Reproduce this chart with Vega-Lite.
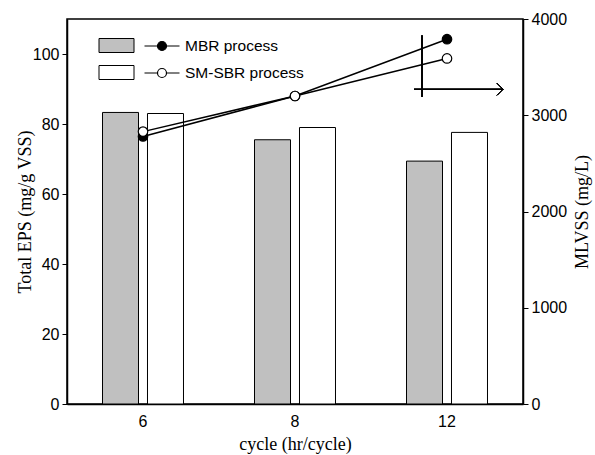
{
  "$schema": "https://vega.github.io/schema/vega-lite/v6.json",
  "width": 456,
  "height": 385,
  "autosize": {"type": "none"},
  "padding": {"left": 67, "top": 19, "right": 72, "bottom": 51},
  "background": "white",
  "config": {
    "view": {"stroke": "black", "strokeWidth": 1.5},
    "axis": {
      "labelFont": "Liberation Sans",
      "labelFontSize": 16,
      "labelColor": "black",
      "titleFont": "Liberation Serif",
      "titleFontSize": 18,
      "titleFontWeight": "normal",
      "titleColor": "black",
      "domainColor": "black",
      "domainWidth": 1.5,
      "tickColor": "black",
      "tickWidth": 1,
      "tickSize": 5,
      "grid": false
    },
    "legend": {
      "labelFont": "Liberation Sans",
      "labelFontSize": 15.5,
      "labelColor": "black",
      "labelLimit": 300,
      "padding": 0
    }
  },
  "data": {
    "values": [
      {"cycle": "6", "process": "MBR process", "eps": 83.3, "mlvss": 2780},
      {"cycle": "8", "process": "MBR process", "eps": 75.5, "mlvss": 3200},
      {"cycle": "12", "process": "MBR process", "eps": 69.4, "mlvss": 3790},
      {"cycle": "6", "process": "SM-SBR process", "eps": 83.0, "mlvss": 2830},
      {"cycle": "8", "process": "SM-SBR process", "eps": 79.0, "mlvss": 3200},
      {"cycle": "12", "process": "SM-SBR process", "eps": 77.6, "mlvss": 3590}
    ]
  },
  "layer": [
    {
      "mark": {"type": "bar", "stroke": "black", "strokeWidth": 1},
      "encoding": {
        "x": {
          "field": "cycle", "type": "nominal", "sort": ["6", "8", "12"],
          "scale": {"type": "band", "domain": ["6", "8", "12"], "paddingInner": 0, "paddingOuter": 0},
          "axis": {"title": "cycle (hr/cycle)", "labelAngle": 0, "ticks": false, "labelPadding": 9, "titlePadding": 6}
        },
        "xOffset": {
          "field": "process", "type": "nominal",
          "scale": {"domain": ["MBR process", "SM-SBR process"], "paddingInner": 0.2, "paddingOuter": 0.789}
        },
        "y": {
          "field": "eps", "type": "quantitative",
          "scale": {"domain": [0, 110], "nice": false},
          "axis": {"title": "Total EPS (mg/g VSS)", "values": [0, 20, 40, 60, 80, 100], "labelPadding": 3, "titlePadding": -2}
        },
        "fill": {
          "field": "process", "type": "nominal",
          "scale": {"domain": ["MBR process", "SM-SBR process"], "range": ["#c0c0c0", "white"]},
          "legend": {
            "title": null, "orient": "none", "legendX": 39, "legendY": 16,
            "symbolType": "M-1.75,-0.7H1.75V0.7H-1.75Z",
            "symbolSize": 400,
            "symbolStrokeColor": "black",
            "symbolStrokeWidth": 1,
            "symbolOpacity": 1,
            "labelExpr": "''",
            "rowPadding": 7
          }
        }
      }
    },
    {
      "layer": [
        {
          "mark": {"type": "line", "color": "black", "strokeWidth": 1.5},
          "encoding": {
            "x": {"field": "cycle", "type": "nominal", "sort": ["6", "8", "12"]},
            "y": {
              "field": "mlvss", "type": "quantitative",
              "scale": {"domain": [0, 4000], "nice": false},
              "axis": {"orient": "right", "title": "MLVSS (mg/L)", "titleAngle": -90, "titleBaseline": "top", "format": "d", "values": [0, 1000, 2000, 3000, 4000], "labelPadding": 3, "titlePadding": 7}
            },
            "detail": {"field": "process", "type": "nominal"}
          }
        },
        {
          "mark": {"type": "point", "shape": "circle", "size": 90, "filled": true, "stroke": "black", "strokeWidth": 1.2, "opacity": 1},
          "encoding": {
            "x": {"field": "cycle", "type": "nominal", "sort": ["6", "8", "12"]},
            "y": {
              "field": "mlvss", "type": "quantitative",
              "scale": {"domain": [0, 4000], "nice": false},
              "axis": {"orient": "right", "title": "MLVSS (mg/L)", "titleAngle": -90, "titleBaseline": "top", "format": "d", "values": [0, 1000, 2000, 3000, 4000], "labelPadding": 3, "titlePadding": 7}
            },
            "fill": {
              "field": "process", "type": "nominal",
              "scale": {"domain": ["MBR process", "SM-SBR process"], "range": ["black", "white"]},
              "legend": {
                "title": null, "orient": "none", "legendX": 84, "legendY": 16,
                "symbolType": "M-1.75,0H-0.45M0.45,0H1.75M-0.45,0A0.45,0.45 0 1,0 0.45,0A0.45,0.45 0 1,0 -0.45,0Z",
                "symbolSize": 400,
                "symbolStrokeColor": "black",
                "symbolStrokeWidth": 1.2,
                "symbolOpacity": 1,
                "labelOffset": 12,
                "rowPadding": 7
              }
            }
          }
        },
        {
          "mark": {"type": "rule", "color": "black", "strokeWidth": 1, "xOffset": -25},
          "encoding": {
            "x": {"datum": "12"},
            "y": {
              "datum": 3830,
              "scale": {"domain": [0, 4000], "nice": false},
              "axis": {"orient": "right", "title": "MLVSS (mg/L)", "titleAngle": -90, "titleBaseline": "top", "format": "d", "values": [0, 1000, 2000, 3000, 4000], "labelPadding": 3, "titlePadding": 7}
            },
            "y2": {"datum": 3190}
          }
        },
        {
          "mark": {"type": "rule", "color": "black", "strokeWidth": 1, "xOffset": -33, "x2Offset": 56},
          "encoding": {
            "x": {"datum": "12"},
            "x2": {"datum": "12"},
            "y": {
              "datum": 3270,
              "scale": {"domain": [0, 4000], "nice": false},
              "axis": {"orient": "right", "title": "MLVSS (mg/L)", "titleAngle": -90, "titleBaseline": "top", "format": "d", "values": [0, 1000, 2000, 3000, 4000], "labelPadding": 3, "titlePadding": 7}
            }
          }
        },
        {
          "mark": {"type": "point", "shape": "M-1,-1L0,0L-1,1", "size": 144, "filled": false, "stroke": "black", "strokeWidth": 1, "opacity": 1, "xOffset": 56},
          "encoding": {
            "x": {"datum": "12"},
            "y": {
              "datum": 3270,
              "scale": {"domain": [0, 4000], "nice": false},
              "axis": {"orient": "right", "title": "MLVSS (mg/L)", "titleAngle": -90, "titleBaseline": "top", "format": "d", "values": [0, 1000, 2000, 3000, 4000], "labelPadding": 3, "titlePadding": 7}
            }
          }
        }
      ]
    }
  ],
  "resolve": {"scale": {"y": "independent", "fill": "independent"}}
}
